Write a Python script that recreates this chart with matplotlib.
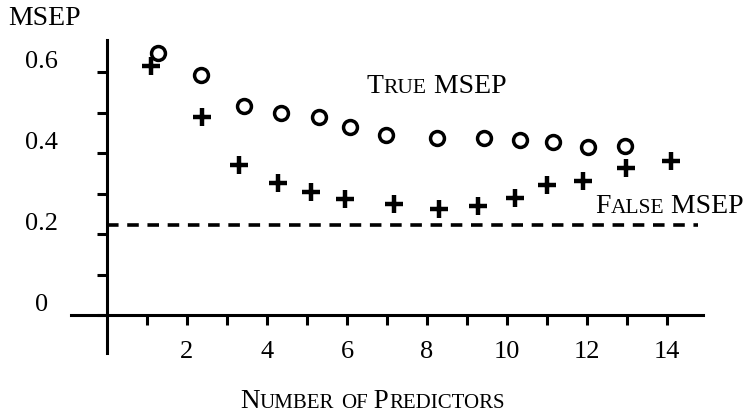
import matplotlib
matplotlib.use('Agg')
import matplotlib.pyplot as plt
from matplotlib.transforms import offset_copy, ScaledTranslation

plt.rcParams['font.family'] = ['Liberation Serif', 'DejaVu Serif']

# values (hand-placed points, so x is not exact integers)
n_true = [1.27, 2.36, 3.42, 4.34, 5.29, 6.08, 6.97, 8.26, 9.43, 10.32, 11.14, 12.03, 12.95]
true_msep = [0.648, 0.592, 0.515, 0.500, 0.488, 0.465, 0.445, 0.438, 0.438, 0.431, 0.426, 0.416, 0.418]
n_false = [1.10, 2.38, 3.30, 4.27, 5.09, 5.96, 7.17, 8.31, 9.28, 10.20, 10.99, 11.91, 12.98, 14.09]
false_msep = [0.614, 0.490, 0.371, 0.327, 0.304, 0.287, 0.275, 0.262, 0.270, 0.290, 0.322, 0.332, 0.364, 0.381]
dash_level = 0.223

x_ticks = list(range(1, 15))
x_labels = ['' if i % 2 else str(i) for i in x_ticks]
y_ticks = [0, 0.1, 0.2, 0.3, 0.4, 0.5, 0.6]
y_labels = ['0', '', '0.2', '', '0.4', '', '0.6']

fig = plt.figure(figsize=(7.46, 4.15), dpi=100)
ax = fig.add_axes([0.0898, 0.1434, 0.8686, 0.7806])
ax.set_xlim(-1, 15.2)
ax.set_ylim(-0.1, 0.7)


def small_caps(x, y, text, transform, big=20, small=15.5):
    # fake small caps: uppercase letters big, lowercase letters drawn as small capitals
    renderer = fig.canvas.get_renderer()
    dx = 0
    runs = []
    for ch in text:
        size = small if ch.islower() else big
        if runs and runs[-1][1] == size:
            runs[-1][0] += ch
        else:
            runs.append([ch, size])
    for s, size in runs:
        t = fig.text(x, y, s.upper(), fontsize=size, ha='left', va='baseline',
                     transform=offset_copy(transform, fig=fig, x=dx, y=0, units='dots'))
        dx += t.get_window_extent(renderer).width


# spines as the hand-drawn axes
for side in ['top', 'right']:
    ax.spines[side].set_visible(False)
ax.spines['left'].set_position(('data', 0))
ax.spines['bottom'].set_position(('data', 0))
ax.spines['left'].set_bounds(-0.094, 0.678)
ax.spines['bottom'].set_bounds(-0.9, 14.9)
for side in ['left', 'bottom']:
    ax.spines[side].set_linewidth(2.2)

ax.set_xticks(x_ticks)
ax.set_xticklabels(x_labels, fontsize=19)
ax.set_yticks(y_ticks)
ax.set_yticklabels(y_labels, fontsize=19)
ax.tick_params(axis='x', direction='out', length=7, width=2.2, pad=12)
ax.tick_params(axis='y', direction='out', length=7, width=2.2, pad=40)
for lab in ax.get_yticklabels():
    lab.set_horizontalalignment('center')
    lab.set_transform(lab.get_transform() + ScaledTranslation(0, 9 / 72, fig.dpi_scale_trans))

ax.hlines(dash_level, 0, 14.78, colors='black', linewidth=2.6,
          linestyles=(0, (3.2, 2.4)))

ax.plot(n_true, true_msep, linestyle='none', marker='o', markersize=10,
        markerfacecolor='none', markeredgecolor='black', markeredgewidth=2.5)
ax.plot(n_false, false_msep, linestyle='none', marker='+', markersize=12.5,
        color='black', markeredgewidth=3.2)

small_caps(6.5, 0.548, 'True MSEP', ax.transData)
small_caps(12.2, 0.252, 'False MSEP', ax.transData)
fig.text(8 / 746, 1 - 25 / 415, 'MSEP', fontsize=20, ha='left', va='baseline')
small_caps(240 / 746, 1 - 408 / 415, 'Number of Predictors', fig.transFigure, big=19.5, small=15)

fig.savefig('out.png', dpi=100)
